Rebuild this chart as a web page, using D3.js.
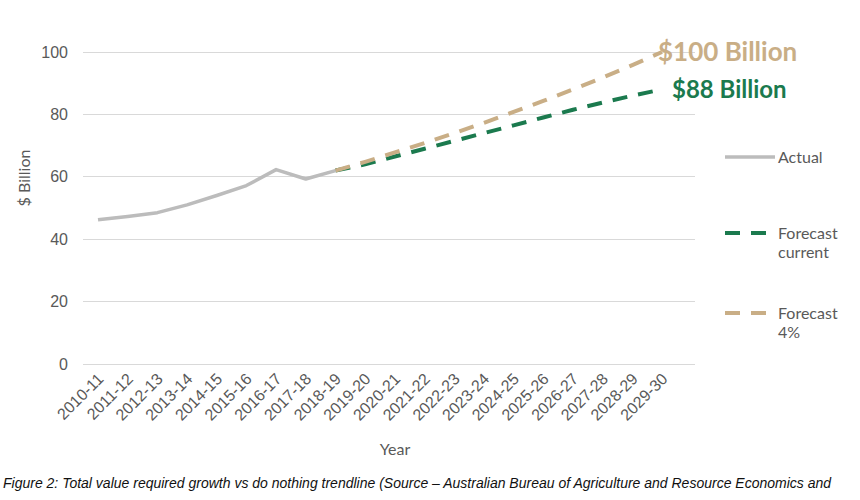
<!DOCTYPE html>
<meta charset="utf-8">
<style>
    body {
        margin: 0;
        background: #fff;
    }

    svg {
        font-family: Lato, "Open Sans", sans-serif;
    }

    .grid line {
        stroke: #d9d9d9;
        stroke-width: 1;
        shape-rendering: crispEdges;
    }

    .axis path,
    .axis line {
        display: none;
    }

    .axis text {
        fill: #595959;
        font-size: 16px;
    }
</style>
<body>
<script src="https://d3js.org/d3.v7.min.js"></script>
<script>
    const years = ['2010-11', '2011-12', '2012-13', '2013-14', '2014-15', '2015-16', '2016-17',
        '2017-18', '2018-19', '2019-20', '2020-21', '2021-22', '2022-23', '2023-24', '2024-25',
        '2025-26', '2026-27', '2027-28', '2028-29', '2029-30'];

    // actual values 2010-11 .. 2018-19
    const actual = [46.2, 47.3, 48.5, 51, 54, 57.2, 62.3, 59.3, 62];

    // forecasts start at 2018-19
    const forecastCurrent = [62, 64, 66.5, 69, 71.5, 74, 76.5, 79, 81.5, 83.8, 86, 88];
    const forecast4 = [62, 64.8, 67.8, 70.8, 74, 77.3, 80.8, 84.3, 88, 91.8, 95.8, 100];

    const yTicks = [0, 20, 40, 60, 80, 100];

    const width = 860;
    const height = 500;

    const svg = d3.select('body')
        .append('svg')
        .attr('width', width)
        .attr('height', height);

    const x = d3.scalePoint()
        .domain(years)
        .range([98, 662]);

    const y = d3.scaleLinear()
        .domain([0, 100])
        .range([364, 52]);

    // gridlines
    svg.append('g')
        .attr('class', 'grid')
        .selectAll('line')
        .data(yTicks)
        .enter().append('line')
        .attr('x1', 83)
        .attr('x2', 695)
        .attr('y1', d => y(d))
        .attr('y2', d => y(d));

    // y axis
    svg.append('g')
        .attr('class', 'axis')
        .attr('transform', 'translate(78,0)')
        .call(d3.axisLeft(y).tickValues(yTicks).tickSize(0).tickPadding(10));

    // x axis, labels slanted
    svg.append('g')
        .attr('class', 'axis')
        .attr('transform', 'translate(0,364)')
        .call(d3.axisBottom(x).tickSize(0).tickPadding(0))
        .selectAll('text')
        .attr('dy', '0.35em')
        .attr('x', 0)
        .attr('y', 0)
        .style('text-anchor', 'end')
        .attr('transform', 'translate(2,12) rotate(-45)');

    // axis titles
    svg.append('text')
        .attr('transform', 'translate(30,178) rotate(-90)')
        .attr('text-anchor', 'middle')
        .style('fill', '#595959')
        .style('font-size', '16px')
        .text('$ Billion');

    svg.append('text')
        .attr('x', 395)
        .attr('y', 455)
        .attr('text-anchor', 'middle')
        .style('fill', '#595959')
        .style('font-size', '16px')
        .text('Year');

    const line = d3.line()
        .x(d => x(d[0]))
        .y(d => y(d[1]));

    const actualPts = actual.map((v, i) => [years[i], v]);
    const currentPts = forecastCurrent.map((v, i) => [years[i + 8], v]);
    const fourPts = forecast4.map((v, i) => [years[i + 8], v]);

    const grey = '#bcbcbc';
    const green = '#1b7a4e';
    const tan = '#c9ae86';

    svg.append('path')
        .datum(currentPts)
        .attr('d', line)
        .attr('fill', 'none')
        .attr('stroke', green)
        .attr('stroke-width', 4)
        .attr('stroke-dasharray', '15 11');

    svg.append('path')
        .datum(fourPts)
        .attr('d', line)
        .attr('fill', 'none')
        .attr('stroke', tan)
        .attr('stroke-width', 4)
        .attr('stroke-dasharray', '15 11');

    svg.append('path')
        .datum(actualPts)
        .attr('d', line)
        .attr('fill', 'none')
        .attr('stroke', grey)
        .attr('stroke-width', 3.5)
        .attr('stroke-linejoin', 'round');

    // end labels
    svg.append('text')
        .attr('x', x(years[19]) - 4)
        .attr('y', y(100))
        .attr('dy', '0.35em')
        .style('fill', tan)
        .style('font-size', '26px')
        .style('font-weight', 'bold')
        .text('$100 Billion');

    svg.append('text')
        .attr('x', x(years[19]) + 10)
        .attr('y', y(88))
        .attr('dy', '0.35em')
        .style('fill', green)
        .style('font-size', '24px')
        .style('font-weight', 'bold')
        .text('$88 Billion');

    // legend
    const legendItems = [
        {label: ['Actual'], color: grey, dash: null, y: 157},
        {label: ['Forecast', 'current'], color: green, dash: '15 11', y: 233},
        {label: ['Forecast', '4%'], color: tan, dash: '15 11', y: 313}
    ];

    const legend = svg.selectAll('.legend')
        .data(legendItems)
        .enter().append('g')
        .attr('class', 'legend')
        .attr('transform', d => 'translate(725,' + d.y + ')');

    legend.append('line')
        .attr('x1', 0)
        .attr('x2', d => d.dash ? 44 : 50)
        .attr('stroke', d => d.color)
        .attr('stroke-width', d => d.dash ? 4 : 3.5)
        .attr('stroke-dasharray', d => d.dash);

    legend.append('text')
        .attr('dy', '0.35em')
        .style('fill', '#595959')
        .style('font-size', '16px')
        .selectAll('tspan')
        .data(d => d.label)
        .enter().append('tspan')
        .attr('x', 53)
        .attr('dy', (d, i) => i ? '1.2em' : null)
        .text(d => d);

    // caption
    svg.append('text')
        .attr('x', 3)
        .attr('y', 488)
        .style('font-family', '"Liberation Sans", sans-serif')
        .style('font-style', 'italic')
        .style('font-size', '14px')
        .style('fill', '#111')
        .text('Figure 2: Total value required growth vs do nothing trendline (Source \u2013 Australian Bureau of Agriculture and Resource Economics and');
</script>
</body>
</html>
